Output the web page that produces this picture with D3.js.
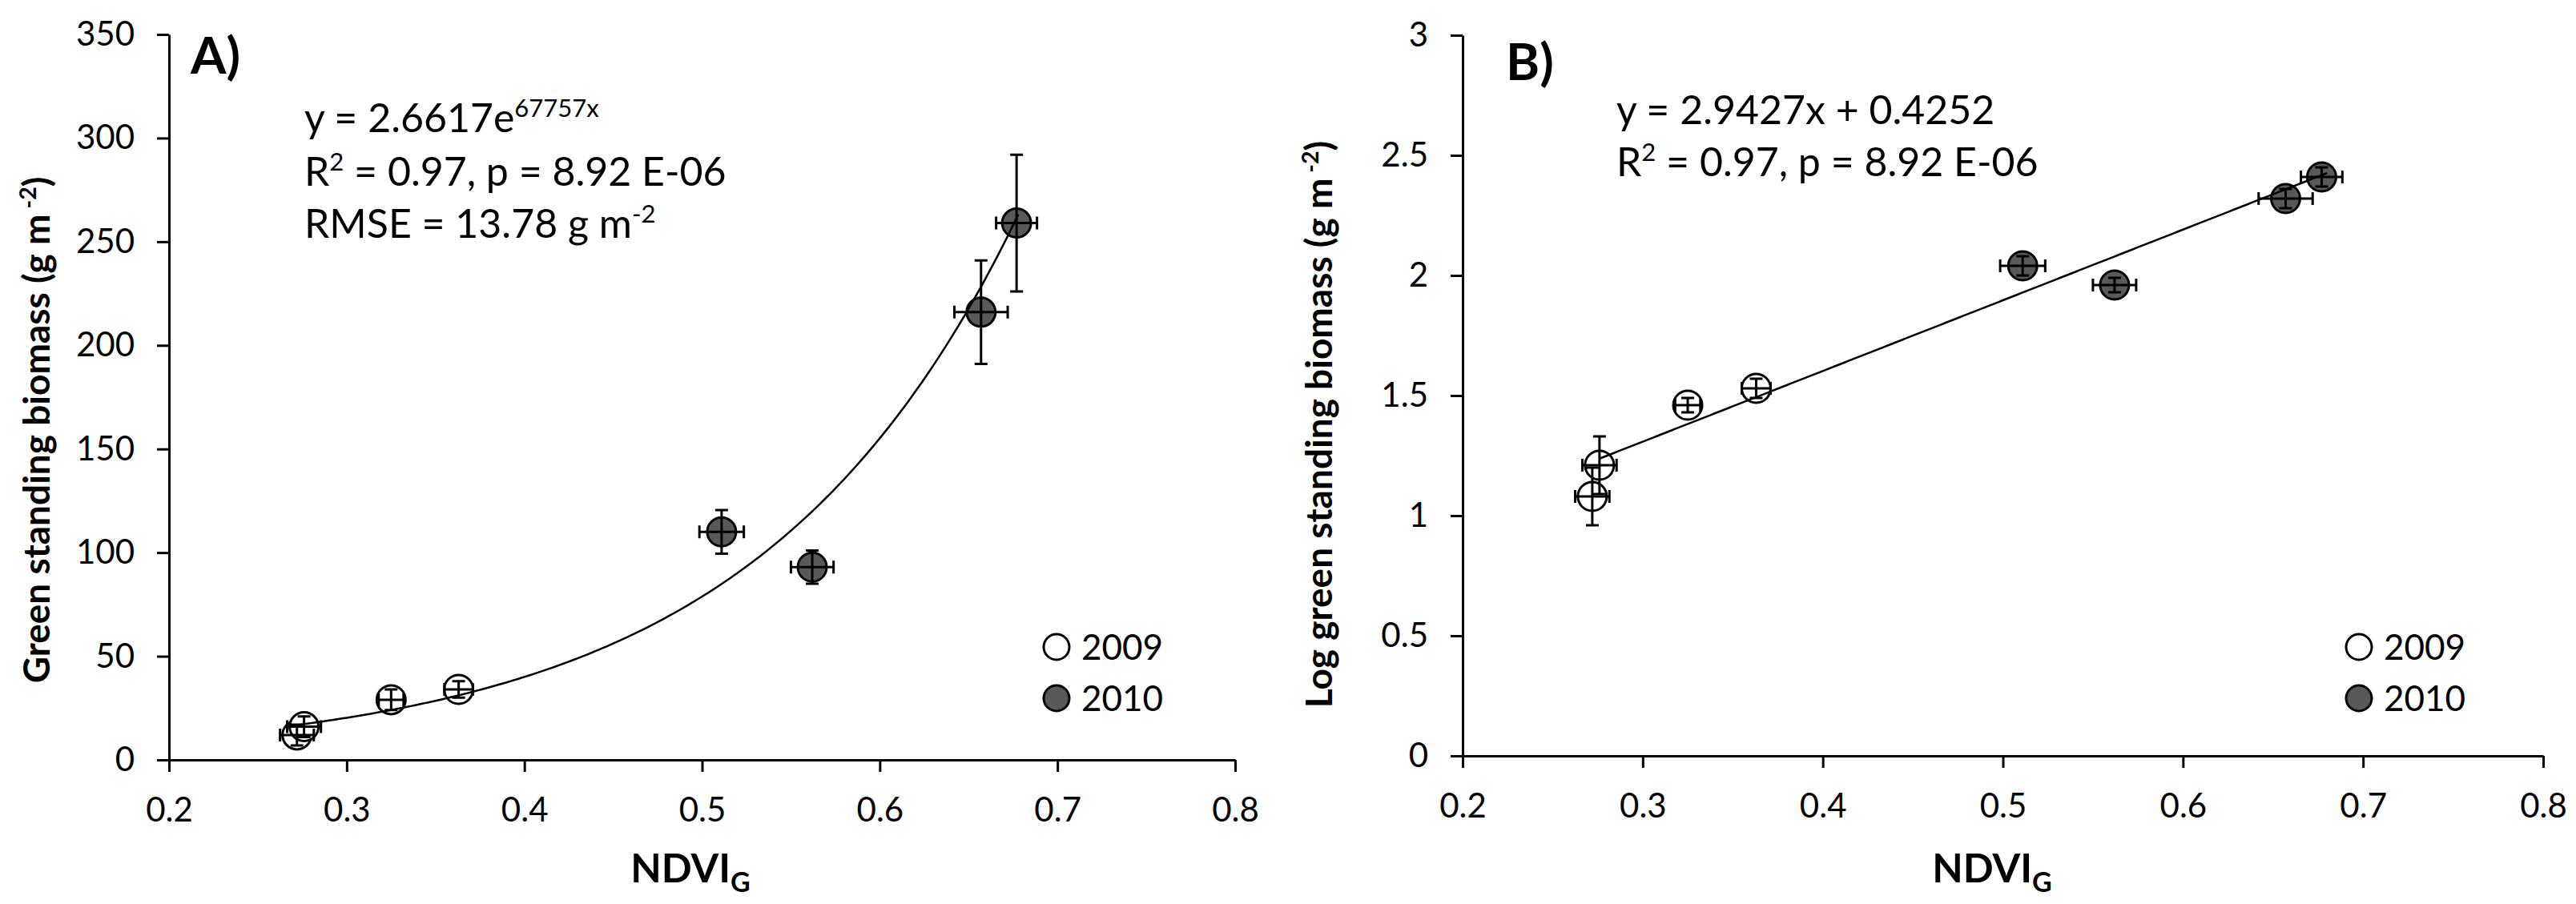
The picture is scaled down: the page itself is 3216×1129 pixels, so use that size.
<!DOCTYPE html>
<html>
<head>
<meta charset="utf-8">
<script src="https://cdn.jsdelivr.net/npm/d3@7"></script>
<style>
  html, body { margin: 0; padding: 0; background: #fff; }
  svg { display: block; font-family: "Lato", "Open Sans", sans-serif; }
  .axis path, .axis line { stroke: #000; stroke-width: 3; }
  .axis text { font-family: "Lato", sans-serif; font-size: 42px; fill: #000; }
</style>
</head>
<body>
<div id="chart"></div>
<script>
// --- données ---
const years = ["2009", "2010"];

const ndvi2009 = [0.272, 0.276, 0.325, 0.363];
const ndviErr2009 = [0.0095, 0.0095, 0.007, 0.008];
const biomass2009 = [12, 16, 29, 34];
const biomassErr2009 = [5, 5, 5, 4];
const logBiomass2009 = [1.08, 1.21, 1.46, 1.53];
const logErr2009 = [0.12, 0.12, 0.03, 0.04];

const ndvi2010 = [0.511, 0.562, 0.657, 0.677];
const ndviErr2010 = [0.0125, 0.012, 0.015, 0.0115];
const biomass2010 = [110, 93, 216, 259];
const biomassErr2010 = [10.5, 8, 25, 33];
const logBiomass2010 = [2.04, 1.96, 2.32, 2.41];
const logErr2010 = [0.04, 0.03, 0.04, 0.04];

const xTicks = [0.2, 0.3, 0.4, 0.5, 0.6, 0.7, 0.8];
const yTicksA = [0, 50, 100, 150, 200, 250, 300, 350];
const yTicksB = [0, 0.5, 1, 1.5, 2, 2.5, 3];

// courbes d'ajustement (équations affichées)
const fitA = { a: 2.6617, b: 6.7757, from: 0.274, to: 0.678 };
const fitB = { slope: 2.9427, intercept: 0.4252, from: 0.276, to: 0.68 };

const W = 3216, H = 1129;
const svg = d3.select("#chart").append("svg").attr("width", W).attr("height", H);

// échelles
const xA = d3.scaleLinear().domain([0.2, 0.8]).range([211, 1542]);
const yA = d3.scaleLinear().domain([0, 350]).range([949, 43]);
const xB = d3.scaleLinear().domain([0.2, 0.8]).range([1826, 3175]);
const yB = d3.scaleLinear().domain([0, 3]).range([944, 44]);

function drawAxes(x, y, yTicks) {
    svg.append("g").attr("class", "axis")
        .attr("transform", "translate(0," + y.range()[0] + ")")
        .call(d3.axisBottom(x).tickValues(xTicks).tickSize(15).tickSizeOuter(0).tickPadding(32)
            .tickFormat(d3.format("")));
    svg.append("g").attr("class", "axis")
        .attr("transform", "translate(" + x.range()[0] + ",0)")
        .call(d3.axisLeft(y).tickValues(yTicks).tickSize(15).tickSizeOuter(0).tickPadding(28)
            .tickFormat(d3.format("")));
}

function drawPoints(x, y, xs, ys, xe, ye, fill) {
    const pts = xs.map((v, i) => ({ x: v, y: ys[i], ex: xe[i], ey: ye[i] }));
    const g = svg.append("g");
    g.selectAll("circle").data(pts).enter().append("circle")
        .attr("cx", d => x(d.x)).attr("cy", d => y(d.y)).attr("r", 18)
        .attr("fill", fill).attr("stroke", "#000").attr("stroke-width", 3);
    const cap = 8;
    const bars = g.selectAll(".err").data(pts).enter().append("path")
        .attr("fill", "none").attr("stroke", "#000").attr("stroke-width", 3)
        .attr("d", d => {
            const cx = x(d.x), cy = y(d.y);
            const y0 = y(d.y - d.ey), y1 = y(d.y + d.ey);
            const x0 = x(d.x - d.ex), x1 = x(d.x + d.ex);
            return "M" + cx + "," + y0 + "V" + y1 +
                "M" + (cx - cap) + "," + y0 + "H" + (cx + cap) +
                "M" + (cx - cap) + "," + y1 + "H" + (cx + cap) +
                "M" + x0 + "," + cy + "H" + x1 +
                "M" + x0 + "," + (cy - cap) + "V" + (cy + cap) +
                "M" + x1 + "," + (cy - cap) + "V" + (cy + cap);
        });
}

function drawFit(x, y, f) {
    const xs = d3.range(f.from, f.to, 0.002).concat([f.to]);
    svg.append("path").datum(xs)
        .attr("fill", "none").attr("stroke", "#000").attr("stroke-width", 2.5)
        .attr("d", d3.line().x(d => x(d)).y(d => y(f.fn(d))));
}

// ligne de texte avec exposants : parts = [[texte, exposant?], ...]
function richText(px, py, parts, size, weight) {
    const t = svg.append("text").attr("x", px).attr("y", py)
        .attr("font-size", size).attr("font-weight", weight || "normal").attr("fill", "#000");
    let raised = false;
    parts.forEach(p => {
        const s = t.append("tspan").text(p[0]);
        if (p[1] && !raised) { s.attr("font-size", size * 0.62).attr("dy", -size * 0.38); raised = true; }
        else if (!p[1] && raised) { s.attr("dy", size * 0.38); raised = false; }
    });
    return t;
}

function drawLegend(px, py) {
    years.forEach((yr, i) => {
        svg.append("circle").attr("cx", px).attr("cy", py + i * 64).attr("r", 16)
            .attr("fill", i === 0 ? "#fff" : "#595959").attr("stroke", "#000").attr("stroke-width", 3);
        svg.append("text").attr("x", px + 31).attr("y", py + i * 64 + 16)
            .attr("font-size", 44).text(yr);
    });
}

// ---------- Panneau A ----------
drawAxes(xA, yA, yTicksA);
drawPoints(xA, yA, ndvi2009, biomass2009, ndviErr2009, biomassErr2009, "#fff");
drawPoints(xA, yA, ndvi2010, biomass2010, ndviErr2010, biomassErr2010, "#595959");
drawFit(xA, yA, Object.assign({ fn: v => fitA.a * Math.exp(fitA.b * v) }, fitA));

svg.append("text").attr("x", 238).attr("y", 92).attr("font-size", 64).attr("font-weight", "bold").text("A)");
richText(380, 165, [["y = 2.6617e"], ["67757x", true]], 50);
richText(380, 232, [["R"], ["2", true], [" = 0.97, p = 8.92 E-06"]], 50);
richText(380, 297, [["RMSE = 13.78 g m"], ["-2", true]], 50);
drawLegend(1319, 808);

richText(0, 0, [["Green standing biomass (g m"], [" -2", true], [")"]], 46, "bold")
    .attr("text-anchor", "middle")
    .attr("transform", "translate(62," + 537 + ") rotate(-90)");
richText(0, 0, [["NDVI"]], 50, "bold")
    .attr("text-anchor", "middle").attr("transform", "translate(862,1102)")
    .append("tspan").attr("font-size", 34).attr("dy", 12).text("G");

// ---------- Panneau B ----------
drawAxes(xB, yB, yTicksB);
drawPoints(xB, yB, ndvi2009, logBiomass2009, ndviErr2009, logErr2009, "#fff");
drawPoints(xB, yB, ndvi2010, logBiomass2010, ndviErr2010, logErr2010, "#595959");
drawFit(xB, yB, Object.assign({ fn: v => fitB.slope * v + fitB.intercept }, fitB));

svg.append("text").attr("x", 1880).attr("y", 100).attr("font-size", 64).attr("font-weight", "bold").text("B)");
richText(2018, 155, [["y = 2.9427x + 0.4252"]], 50);
richText(2018, 220, [["R"], ["2", true], [" = 0.97, p = 8.92 E-06"]], 50);
drawLegend(2945, 808);

richText(0, 0, [["Log green standing biomass (g m"], [" -2", true], [")"]], 46, "bold")
    .attr("text-anchor", "middle")
    .attr("transform", "translate(1663," + 530 + ") rotate(-90)");
richText(0, 0, [["NDVI"]], 50, "bold")
    .attr("text-anchor", "middle").attr("transform", "translate(2487,1102)")
    .append("tspan").attr("font-size", 34).attr("dy", 12).text("G");
</script>
</body>
</html>
